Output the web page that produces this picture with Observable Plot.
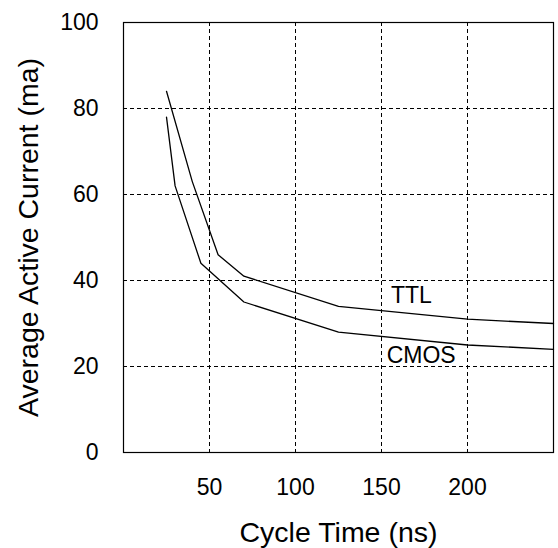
<!DOCTYPE html>
<html>
<head>
<meta charset="utf-8">
<script src="https://cdn.jsdelivr.net/npm/d3@7"></script>
<script src="https://cdn.jsdelivr.net/npm/@observablehq/plot@0.6"></script>
<style>
  html, body { margin: 0; padding: 0; background: #fff; }
  #chart { width: 558px; height: 548px; }
</style>
</head>
<body>
<div id="chart"></div>
<script>
const xTitle = "Cycle Time (ns)";
const yTitle = "Average Active Current (ma)";
const xTicks = [50, 100, 150, 200];
const yTicks = [0, 20, 40, 60, 80, 100];
const xGrid = [50, 100, 150, 200];
const yGrid = [20, 40, 60, 80];

const ttlCycle = [25, 40, 55, 70, 125, 200, 250];
const ttlCurrent = [84, 63, 46, 41, 34, 31, 30];
const cmosCycle = [25, 30, 45, 70, 125, 200, 250];
const cmosCurrent = [78, 62, 44, 35, 28, 25, 24];

const seriesLabels = ["TTL", "CMOS"];
const labelCycle = [155.5, 153];
const labelCurrent = [34.8, 20.9];

const ttl = ttlCycle.map((x, i) => ({x, y: ttlCurrent[i]}));
const cmos = cmosCycle.map((x, i) => ({x, y: cmosCurrent[i]}));
const labels = seriesLabels.map((t, i) => ({t, x: labelCycle[i], y: labelCurrent[i]}));

const chart = Plot.plot({
  width: 558,
  height: 548,
  marginLeft: 123,
  marginRight: 5,
  marginTop: 22,
  marginBottom: 96,
  style: {fontFamily: "'Liberation Sans', Arial, Helvetica, sans-serif", background: "#fff", color: "#000"},
  x: {domain: [0, 250]},
  y: {domain: [0, 100]},
  marks: [
    Plot.gridX(xGrid, {stroke: "#000", strokeOpacity: 1, strokeWidth: 1, strokeDasharray: "4,3"}),
    Plot.gridY(yGrid, {stroke: "#000", strokeOpacity: 1, strokeWidth: 1, strokeDasharray: "4,3"}),
    Plot.axisX({ticks: xTicks, tickSize: 0, tickPadding: 26, fontSize: 23, label: null}),
    Plot.axisY({ticks: yTicks, tickSize: 0, tickPadding: 25, fontSize: 23, label: null}),
    Plot.line(ttl, {x: "x", y: "y", stroke: "#000", strokeWidth: 1.3}),
    Plot.line(cmos, {x: "x", y: "y", stroke: "#000", strokeWidth: 1.3}),
    Plot.text(labels, {x: "x", y: "y", text: "t", textAnchor: "start", lineAnchor: "bottom", fontSize: 23, fill: "#000"}),
    Plot.text([xTitle], {text: d => d, frameAnchor: "bottom", textAnchor: "middle", lineAnchor: "top", dy: 69, fontSize: 28.5, fill: "#000"}),
    Plot.text([yTitle], {text: d => d, frameAnchor: "left", textAnchor: "middle", rotate: -90, lineAnchor: "top", dx: -106, fontSize: 28.5, fill: "#000"}),
    Plot.frame({stroke: "#000", strokeWidth: 1.2})
  ]
});
document.getElementById("chart").appendChild(chart);
</script>
</body>
</html>
